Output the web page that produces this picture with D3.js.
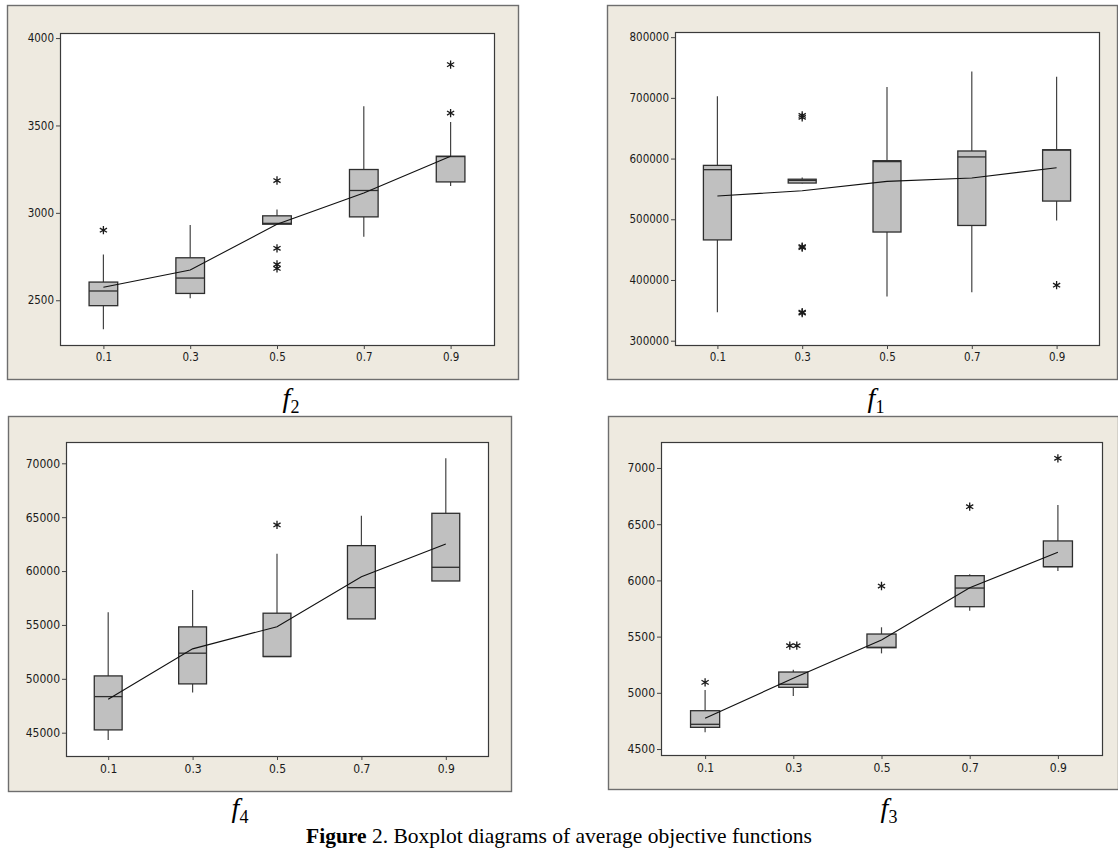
<!DOCTYPE html>
<html><head><meta charset="utf-8">
<script src="https://cdn.jsdelivr.net/npm/d3@7"></script>
<style>body{margin:0;background:#fff}svg{display:block}</style>
</head><body><svg id="c" width="1118" height="857"></svg>
<script>
// ---- data ----
const xValues = [0.1, 0.3, 0.5, 0.7, 0.9];
const xTickLabels = ["0.1", "0.3", "0.5", "0.7", "0.9"];

// f2 (top-left)
const f2Low    = [2334, 2511, 2935, 2863, 3153];
const f2Q1     = [2469, 2539, 2935, 2977, 3177];
const f2Median = [2553, 2627, 2940, 3128, 3322];
const f2Q3     = [2604, 2743, 2983, 3248, 3324];
const f2High   = [2762, 2930, 3019, 3610, 3520];
const f2Mean   = [2574, 2673, 2935, 3114, 3324];
const f2OutX   = [0.1, 0.5, 0.5, 0.5, 0.5, 0.9, 0.9];
const f2OutY   = [2901, 3185, 2797, 2705, 2682, 3571, 3848];
const f2Ticks  = [2500, 3000, 3500, 4000];

// f1 (top-right)
const f1Low    = [347000, 559000, 372600, 380000, 498000];
const f1Q1     = [466000, 559700, 479000, 489800, 530000];
const f1Median = [581700, 564000, 595000, 602700, 614000];
const f1Q3     = [588800, 566000, 596500, 612500, 614500];
const f1High   = [702600, 569000, 718100, 743400, 734600];
const f1Mean   = [538300, 547000, 562400, 568000, 585000];
const f1OutX   = [0.3, 0.3, 0.3, 0.3, 0.3, 0.3, 0.9];
const f1OutY   = [671000, 668000, 455000, 453500, 347000, 345500, 391400];
const f1Ticks  = [300000, 400000, 500000, 600000, 700000, 800000];

// f4 (bottom-left)
const f4Low    = [44330, 48720, 52070, 55560, 59080];
const f4Q1     = [45260, 49530, 52070, 55560, 59080];
const f4Median = [48350, 52380, 52070, 58460, 60350];
const f4Q3     = [50270, 54820, 56090, 62360, 65360];
const f4High   = [56180, 58250, 61610, 65140, 70460];
const f4Mean   = [48110, 52780, 54840, 59480, 62510];
const f4OutX   = [0.5];
const f4OutY   = [64280];
const f4Ticks  = [45000, 50000, 55000, 60000, 65000, 70000];

// f3 (bottom-right)
const f3Low    = [4649, 4972, 5351, 5730, 6084];
const f3Q1     = [4693, 5049, 5401, 5766, 6122];
const f3Median = [4720, 5076, 5405, 5932, 6122];
const f3Q3     = [4841, 5185, 5523, 6042, 6351];
const f3High   = [5025, 5206, 5583, 6054, 6671];
const f3Mean   = [4773, 5130, 5470, 5935, 6250];
const f3OutX   = [0.1, 0.3, 0.3, 0.5, 0.7, 0.9];
const f3OutY   = [5093, 5419, 5419, 5950, 6656, 7086];
const f3Ticks  = [4500, 5000, 5500, 6000, 6500, 7000];

// ---- drawing ----
const svg = d3.select("#c");

const panels = [
  {low:f2Low,q1:f2Q1,med:f2Median,q3:f2Q3,high:f2High,mean:f2Mean,ox:f2OutX,oy:f2OutY,ticks:f2Ticks,
   frame:[7,5,511,374], plot:[60,33,494,345], yDom:[2244,4029], fs:11.5,
   label:"2", lx:291, ly:407},
  {low:f1Low,q1:f1Q1,med:f1Median,q3:f1Q3,high:f1High,mean:f1Mean,ox:f1OutX,oy:f1OutY,ticks:f1Ticks,
   frame:[607,5,510,374], plot:[675,32,1099,345], yDom:[292900,808500], fs:11.5,
   label:"1", lx:876, ly:407},
  {low:f4Low,q1:f4Q1,med:f4Median,q3:f4Q3,high:f4High,mean:f4Mean,ox:f4OutX,oy:f4OutY,ticks:f4Ticks,
   frame:[8,416,503,375], plot:[66,442,488,756], yDom:[42838,71977], fs:12,
   label:"4", lx:240, ly:817},
  {low:f3Low,q1:f3Q1,med:f3Median,q3:f3Q3,high:f3High,mean:f3Mean,ox:f3OutX,oy:f3OutY,ticks:f3Ticks,
   frame:[608,416,510,373], plot:[661,442,1102,755], yDom:[4447,7231], fs:12,
   label:"3", lx:889, ly:817}
];

const tickFont = "'DejaVu Sans Condensed','DejaVu Sans',sans-serif";

panels.forEach(p => {
  const g = svg.append("g");
  const [fx, fy, fw, fh] = p.frame;
  g.append("rect").attr("x", fx + 0.5).attr("y", fy + 0.5).attr("width", fw).attr("height", fh)
    .attr("fill", "#EEEAE0").attr("stroke", "#6e6e6e").attr("stroke-width", 1.4);

  const [x0, y0, x1, y1] = p.plot;
  g.append("rect").attr("x", x0 + 0.5).attr("y", y0 + 0.5).attr("width", x1 - x0).attr("height", y1 - y0)
    .attr("fill", "#fff").attr("stroke", "#3a3a3a").attr("stroke-width", 1.2);

  const x = d3.scaleLinear().domain([0, 1]).range([x0, x1]);
  const y = d3.scaleLinear().domain(p.yDom).range([y1, y0]);

  const ya = g.append("g").attr("transform", `translate(${x0},0)`)
    .call(d3.axisLeft(y).tickValues(p.ticks).tickSize(4).tickPadding(2).tickFormat(d3.format("d")));
  const xa = g.append("g").attr("transform", `translate(0,${y1})`)
    .call(d3.axisBottom(x).tickValues(xValues).tickSize(4).tickPadding(4).tickFormat((d, i) => xTickLabels[i]));
  [ya, xa].forEach(a => {
    a.select(".domain").remove();
    a.selectAll(".tick line").attr("stroke", "#444");
    a.selectAll(".tick text").attr("fill", "#1a1a1a").style("font-family", tickFont).style("font-size", p.fs + "px");
  });

  const hw = x(0.033) - x(0);
  const data = xValues.map((v, i) => ({v, low:p.low[i], q1:p.q1[i], med:p.med[i], q3:p.q3[i], high:p.high[i]}));

  // whiskers
  g.selectAll(".wu").data(data).enter().append("line")
    .attr("x1", d => x(d.v)).attr("x2", d => x(d.v))
    .attr("y1", d => y(d.high)).attr("y2", d => y(d.q3))
    .attr("stroke", "#444").attr("stroke-width", 1.2);
  g.selectAll(".wl").data(data).enter().append("line")
    .attr("x1", d => x(d.v)).attr("x2", d => x(d.v))
    .attr("y1", d => y(d.q1)).attr("y2", d => y(d.low))
    .attr("stroke", "#444").attr("stroke-width", 1.2);

  // boxes
  g.selectAll(".bx").data(data).enter().append("rect")
    .attr("x", d => x(d.v) - hw).attr("width", 2 * hw)
    .attr("y", d => y(d.q3)).attr("height", d => Math.max(1, y(d.q1) - y(d.q3)))
    .attr("fill", "#C0C0C0").attr("stroke", "#2e2e2e").attr("stroke-width", 1.3);

  // medians
  g.selectAll(".md").data(data).enter().append("line")
    .attr("x1", d => x(d.v) - hw).attr("x2", d => x(d.v) + hw)
    .attr("y1", d => y(d.med)).attr("y2", d => y(d.med))
    .attr("stroke", "#2e2e2e").attr("stroke-width", 1.3);

  // mean connect line
  g.append("path").datum(xValues.map((v, i) => [v, p.mean[i]]))
    .attr("d", d3.line().x(d => x(d[0])).y(d => y(d[1])))
    .attr("fill", "none").attr("stroke", "#111").attr("stroke-width", 1.1);

  // outliers (identical values dodged sideways)
  const seen = {};
  const outs = p.ox.map((v, i) => {
    const key = v + "_" + p.oy[i];
    seen[key] = (seen[key] || 0) + 1;
    return {v, val: p.oy[i], k: seen[key] - 1};
  });
  const counts = {};
  outs.forEach(o => { counts[o.v + "_" + o.val] = (counts[o.v + "_" + o.val] || 0) + 1; });
  const sym = d3.symbol().type(d3.symbolAsterisk).size(48);
  g.selectAll(".out").data(outs).enter().append("path")
    .attr("d", sym)
    .attr("transform", o => {
      const n = counts[o.v + "_" + o.val];
      const dx = n > 1 ? (o.k - (n - 1) / 2) * 7 : 0;
      return `translate(${x(o.v) + dx},${y(o.val)})`;
    })
    .attr("fill", "none").attr("stroke", "#1a1a1a").attr("stroke-width", 1.3);

  // panel label f_n
  const t = svg.append("text").attr("x", p.lx).attr("y", p.ly).attr("text-anchor", "middle")
    .style("font-family", "'Liberation Serif','DejaVu Serif',serif").attr("fill", "#000");
  t.append("tspan").text("f").style("font-style", "italic").style("font-size", "28px");
  t.append("tspan").text(p.label).attr("dy", 6).style("font-size", "18px");
});

// caption
const cap = svg.append("text").attr("x", 559).attr("y", 843).attr("text-anchor", "middle")
  .style("font-family", "'Liberation Serif','Times New Roman',serif").style("font-size", "21.5px").attr("fill", "#000");
cap.append("tspan").text("Figure").style("font-weight", "bold");
cap.append("tspan").text(" 2. Boxplot diagrams of average objective functions");
</script>
</body></html>
